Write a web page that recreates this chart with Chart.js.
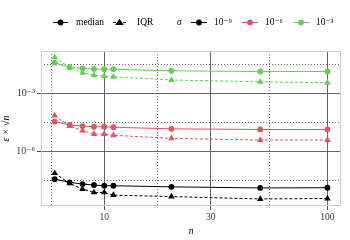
<!DOCTYPE html>
<html>
<head>
<meta charset="utf-8">
<script src="https://cdn.jsdelivr.net/npm/chart.js@4.4.1/dist/chart.umd.min.js"></script>
<style>
  html, body { margin: 0; padding: 0; background: #fff; }
</style>
</head>
<body>
<canvas id="chart" width="350" height="240"></canvas>
<script>
// sample sizes on the x axis
const nValues = [6, 7, 8, 9, 10, 11, 20, 50, 100];

// epsilon * sqrt(n), one median and one IQR series per sigma
const medianS9 = [3.5e-8, 2.4e-8, 1.95e-8, 1.74e-8, 1.6e-8, 1.6e-8, 1.4e-8, 1.23e-8, 1.26e-8];
const iqrS9    = [7.1e-8, 2.1e-8, 1.07e-8, 7.2e-9, 7.2e-9, 5.2e-9, 4.4e-9, 3.3e-9, 3.5e-9];
const medianS6 = [3.3e-5, 2.24e-5, 1.95e-5, 1.8e-5, 1.8e-5, 1.7e-5, 1.4e-5, 1.3e-5, 1.3e-5];
const iqrS6    = [6.8e-5, 1.95e-5, 1.12e-5, 7.6e-6, 7.6e-6, 6.5e-6, 4.5e-6, 3.7e-6, 3.7e-6];
const medianS3 = [3.7e-2, 2.1e-2, 1.9e-2, 1.74e-2, 1.7e-2, 1.7e-2, 1.4e-2, 1.3e-2, 1.3e-2];
const iqrS3    = [7.1e-2, 2.1e-2, 1.12e-2, 8.3e-3, 7.6e-3, 6.9e-3, 4.7e-3, 3.8e-3, 3.4e-3];

// ticks and grid breaks
const xTicks = [10, 30, 100];
const xMinor = [5.77, 17.3, 54.8];
const yTicks = [1e-3, 1e-6];
const yTickLabels = ['10⁻³', '10⁻⁶'];
const yMinor = [3.16e-2, 3.16e-5, 3.16e-8];

const sigmaLabels = ['10⁻⁹', '10⁻⁶', '10⁻³'];
const sigmaColors = ['#000000', '#DF536B', '#61D04F'];

const serif = '"Liberation Serif", "DejaVu Serif", serif';

function pts(vals) {
    return nValues.map((n, i) => ({ x: n, y: vals[i] }));
}

function medianSet(vals, color) {
    return {
        data: pts(vals),
        borderColor: color,
        backgroundColor: color,
        borderWidth: 1,
        pointStyle: 'circle',
        pointRadius: 2.9,
        pointBorderWidth: 0,
    };
}

function iqrSet(vals, color) {
    return {
        data: pts(vals),
        borderColor: color,
        backgroundColor: color,
        borderWidth: 1,
        borderDash: [3, 2],
        pointStyle: 'triangle',
        pointRadius: 3.8,
        pointBorderWidth: 0,
    };
}

// minor dotted grid, panel border and the custom two-part legend
const panelPlugin = {
    id: 'panel',
    beforeDatasetsDraw(chart) {
        const { ctx, chartArea: a, scales: { x, y } } = chart;
        ctx.save();
        ctx.strokeStyle = '#444';
        ctx.lineWidth = 0.8;
        ctx.setLineDash([1, 2]);
        xMinor.forEach(v => {
            const px = Math.round(x.getPixelForValue(v)) + 0.5;
            ctx.beginPath(); ctx.moveTo(px, a.top); ctx.lineTo(px, a.bottom); ctx.stroke();
        });
        yMinor.forEach(v => {
            const py = Math.round(y.getPixelForValue(v)) + 0.5;
            ctx.beginPath(); ctx.moveTo(a.left, py); ctx.lineTo(a.right, py); ctx.stroke();
        });
        ctx.setLineDash([]);
        ctx.strokeStyle = '#cfcfcf';
        ctx.lineWidth = 1;
        ctx.strokeRect(a.left + 0.5, a.top + 0.5, a.width - 1, a.height - 1);
        ctx.restore();
    },
    afterDraw(chart) {
        const ctx = chart.ctx;
        const ly = 22.5;
        ctx.save();
        ctx.textBaseline = 'middle';
        ctx.fillStyle = '#000';
        ctx.font = '9.5px ' + serif;

        // line type key
        ctx.strokeStyle = '#000';
        ctx.lineWidth = 1;
        ctx.beginPath(); ctx.moveTo(53, ly); ctx.lineTo(68, ly); ctx.stroke();
        ctx.beginPath(); ctx.arc(60.5, ly, 2.9, 0, Math.PI * 2); ctx.fill();
        ctx.fillText('median', 76, ly);

        ctx.setLineDash([3, 2]);
        ctx.beginPath(); ctx.moveTo(113, ly); ctx.lineTo(126, ly); ctx.stroke();
        ctx.setLineDash([]);
        ctx.beginPath();
        ctx.moveTo(119.5, ly - 3.8); ctx.lineTo(123.8, ly + 2.6); ctx.lineTo(115.2, ly + 2.6);
        ctx.closePath(); ctx.fill();
        ctx.fillText('IQR', 137, ly);

        // colour key
        ctx.font = 'italic 9.5px ' + serif;
        ctx.fillText('σ', 177, ly);
        ctx.font = '9.5px ' + serif;
        const starts = [191, 242, 293];
        sigmaLabels.forEach((lab, i) => {
            const s = starts[i];
            ctx.strokeStyle = sigmaColors[i];
            ctx.fillStyle = sigmaColors[i];
            ctx.beginPath(); ctx.moveTo(s, ly); ctx.lineTo(s + 16, ly); ctx.stroke();
            ctx.beginPath(); ctx.arc(s + 8, ly, 2.9, 0, Math.PI * 2); ctx.fill();
            ctx.fillStyle = '#000';
            ctx.fillText(lab, s + 23, ly);
        });
        ctx.restore();
    }
};

const ctx = document.getElementById('chart').getContext('2d');

new Chart(ctx, {
    type: 'line',
    data: {
        datasets: [
            medianSet(medianS9, sigmaColors[0]), iqrSet(iqrS9, sigmaColors[0]),
            medianSet(medianS6, sigmaColors[1]), iqrSet(iqrS6, sigmaColors[1]),
            medianSet(medianS3, sigmaColors[2]), iqrSet(iqrS3, sigmaColors[2]),
        ],
    },
    options: {
        responsive: false,
        animation: false,
        layout: { padding: { top: 51, right: 9, left: 0, bottom: 0 } },
        plugins: {
            legend: { display: false },
            tooltip: { enabled: false },
        },
        scales: {
            x: {
                type: 'logarithmic',
                min: 5.21,
                max: 115,
                afterBuildTicks: scale => { scale.ticks = xTicks.map(v => ({ value: v })); },
                afterFit: scale => { scale.height = 34; },
                ticks: {
                    callback: v => String(v),
                    color: '#333',
                    font: { family: serif, size: 9.5 },
                    padding: 2,
                    maxRotation: 0,
                    autoSkip: false,
                },
                grid: { color: '#555', lineWidth: 0.9, tickColor: '#333', tickLength: 4 },
                border: { display: false },
                title: {
                    display: true,
                    text: 'n',
                    color: '#000',
                    font: { family: serif, size: 9.5, style: 'italic' },
                    padding: { top: 0, bottom: 3 },
                },
            },
            y: {
                type: 'logarithmic',
                min: 1.43e-9,
                max: 0.149,
                afterBuildTicks: scale => { scale.ticks = yTicks.map(v => ({ value: v })); },
                afterFit: scale => { scale.width = 41; },
                ticks: {
                    callback: v => yTickLabels[yTicks.indexOf(v)],
                    color: '#333',
                    font: { family: serif, size: 10 },
                    padding: 2,
                    autoSkip: false,
                },
                grid: { color: '#555', lineWidth: 0.9, tickColor: '#333', tickLength: 4 },
                border: { display: false },
                title: {
                    display: true,
                    text: 'ε × √n',
                    color: '#000',
                    font: { family: serif, size: 10, style: 'italic' },
                    padding: { top: 0, bottom: 0 },
                },
            },
        },
    },
    plugins: [panelPlugin],
});
</script>
</body>
</html>
